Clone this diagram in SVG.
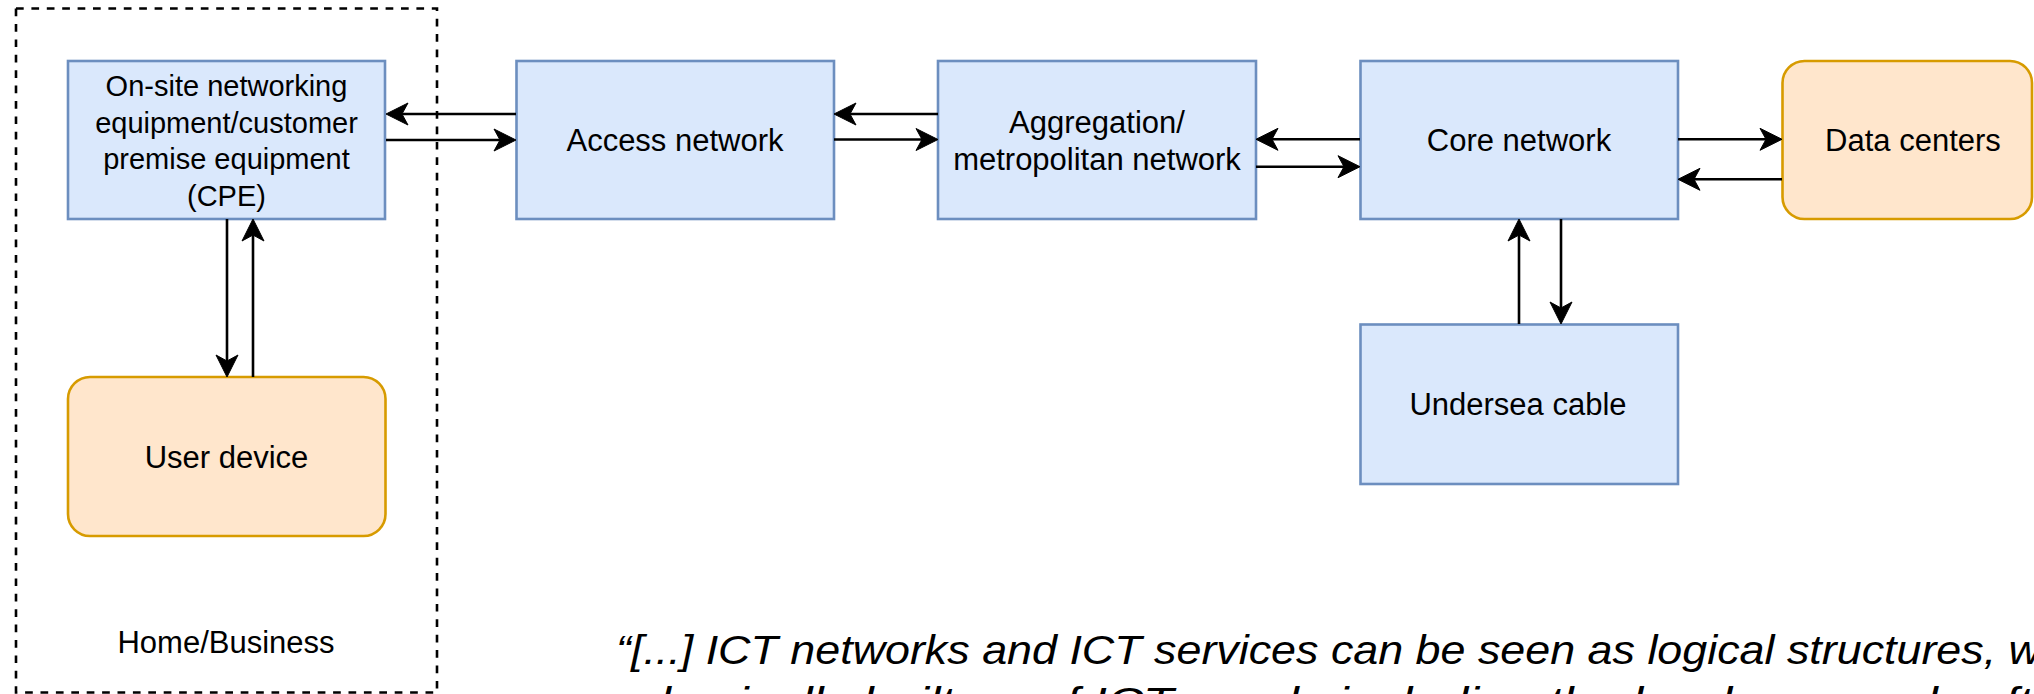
<svg xmlns="http://www.w3.org/2000/svg" width="2034" height="694" viewBox="0 0 2034 694">
<style>
.blue{fill:#dae8fc;stroke:#6c8ebf;stroke-width:2.6}
.orange{fill:#ffe6cc;stroke:#d79b00;stroke-width:2.6}
.lbl{font-family:"Liberation Sans",Arial,sans-serif;font-size:31px;fill:#000;text-anchor:middle}
.cpe{font-size:29px}
.edge{stroke:#000;stroke-width:2.6;fill:none;marker-end:url(#arr)}
.quote{font-family:"Liberation Sans",Arial,sans-serif;font-style:italic;font-size:41px;fill:#000}
</style>
<defs>
<marker id="arr" markerUnits="userSpaceOnUse" markerWidth="26" markerHeight="24" viewBox="-14 -12 26 24" refX="0" refY="0" orient="auto">
<path d="M-12,-11 L10,0 L-12,11 L-6,0 Z" fill="#000" stroke="#000" stroke-width="1"/>
</marker>
</defs>
<g id="home-business">
<rect x="16" y="8.5" width="421" height="684" fill="none" stroke="#000" stroke-width="2.6" stroke-dasharray="7.7 7.7"/>
<text class="lbl" x="226" y="653">Home/Business</text>
</g>
<g id="cpe">
<rect class="blue" x="68" y="61" width="317" height="158"/>
<text class="lbl cpe" x="226.5"><tspan x="226.5" y="96">On-site networking</tspan><tspan x="226.5" y="132.5">equipment/customer</tspan><tspan x="226.5" y="169">premise equipment</tspan><tspan x="226.5" y="205.5">(CPE)</tspan></text>
</g>
<g id="user-device">
<rect class="orange" x="68" y="377" width="317.5" height="159" rx="22" ry="22"/>
<text class="lbl" x="226.5" y="468">User device</text>
</g>
<g id="access">
<rect class="blue" x="516.5" y="61" width="317.5" height="158"/>
<text class="lbl" x="675" y="151">Access network</text>
</g>
<g id="aggregation">
<rect class="blue" x="938" y="61" width="318" height="158"/>
<text class="lbl"><tspan x="1097" y="133">Aggregation/</tspan><tspan x="1097" y="169.5">metropolitan network</tspan></text>
</g>
<g id="core">
<rect class="blue" x="1360.5" y="61" width="317.5" height="158"/>
<text class="lbl" x="1519" y="151">Core network</text>
</g>
<g id="data-centers">
<rect class="orange" x="1782.5" y="61" width="249.5" height="158" rx="22" ry="22"/>
<text class="lbl" x="1913" y="151">Data centers</text>
</g>
<g id="undersea">
<rect class="blue" x="1360.5" y="324.5" width="317.5" height="159.5"/>
<text class="lbl" x="1518" y="415">Undersea cable</text>
</g>
<g id="connectors">
<path class="edge" d="M516,114 H396"/>
<path class="edge" d="M386,140 H506"/>
<path class="edge" d="M938,114 H844"/>
<path class="edge" d="M834,139.5 H928"/>
<path class="edge" d="M1360,139.3 H1266"/>
<path class="edge" d="M1256,166.7 H1350"/>
<path class="edge" d="M1678,139.3 H1772"/>
<path class="edge" d="M1782,179.3 H1688"/>
<path class="edge" d="M1519,324 V229"/>
<path class="edge" d="M1561,219 V314"/>
<path class="edge" d="M227,219 V367"/>
<path class="edge" d="M253,377 V229"/>
</g>
<g id="quote">
<text class="quote" x="616" y="664" textLength="1425" lengthAdjust="spacingAndGlyphs">“[...] ICT networks and ICT services can be seen as logical structures, w</text>
<text class="quote" x="632" y="716" textLength="1400" lengthAdjust="spacingAndGlyphs">physically built up of ICT goods including the hardware and soft</text>
</g>
</svg>
